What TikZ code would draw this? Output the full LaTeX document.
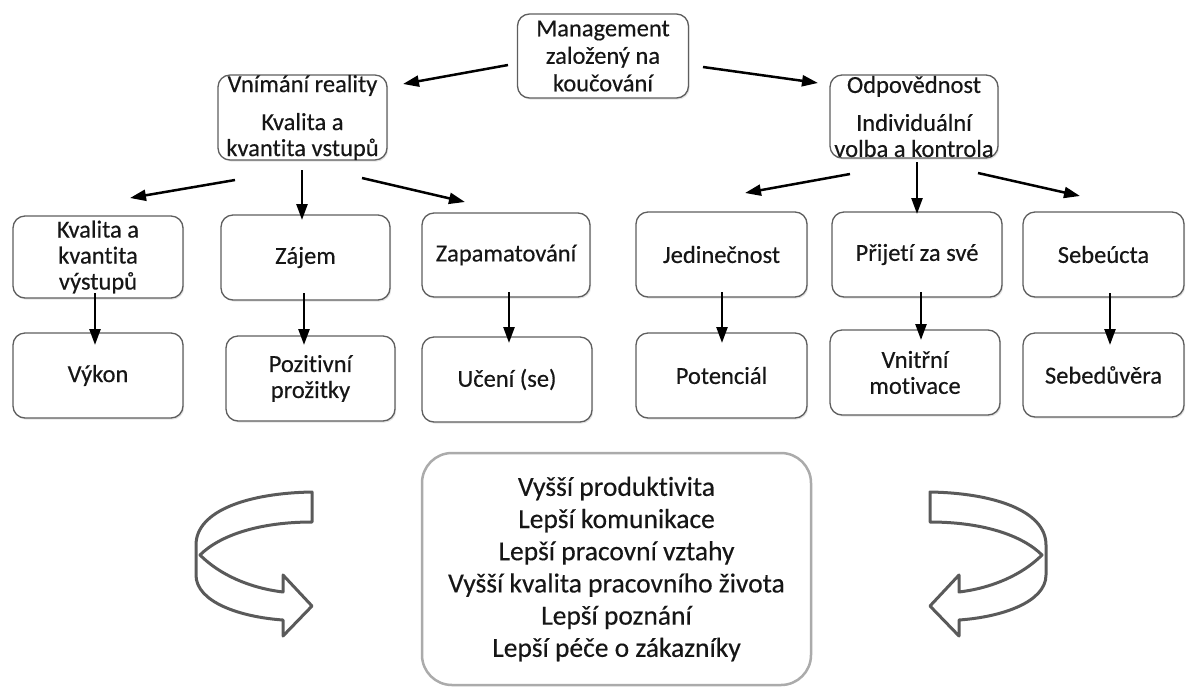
\documentclass[tikz,border=0pt]{standalone}
\usepackage{fontspec}
\setmainfont{Carlito}[Ligatures={NoCommon}, FakeBold=0.35]
\usetikzlibrary{arrows.meta,shadows}
\definecolor{ink}{HTML}{161616}
\definecolor{boxline}{HTML}{5E5E5E}
\definecolor{bigline}{HTML}{ABABAB}
\definecolor{ribbon}{HTML}{5A5A5A}

% twisted ribbon arrow, drawn in local pixel coordinates
\newcommand{\ribbonarrow}{%
  \draw[ribbon, line width=3pt, line join=round]
    (312,492) .. controls (250,493) and (196,510) .. (196,545)
    -- (196,575) .. controls (196,602) and (240,617) .. (283,620)
    -- (283,636) -- (312,606) -- (283,575) -- (283,592)
    .. controls (250,588) and (220,575) .. (200,555)
    .. controls (220,535) and (260,522) .. (312,522) -- cycle;
}

\begin{document}
\begin{tikzpicture}[x=1pt,y=-1pt,
  card/.style={draw=boxline, line width=1.3pt, rounded corners=12pt, fill=white,
    align=center, inner sep=0pt, text=ink, font=\fontsize{24.5}{26}\selectfont,
    drop shadow={opacity=0.22, shadow xshift=1.2pt, shadow yshift=-1.6pt}},
  link/.style={line width=2.5pt, -{Triangle[length=16pt,width=11pt]}}]

\useasboundingbox (0,0) rectangle (1186,686);

% top level
\node[card, minimum width=171, minimum height=84, font=\fontsize{24.5}{27.5}\selectfont]
  (mgmt) at (603,56) {Management\\založený na\\koučování};
\node[card, minimum width=169, minimum height=84]
  (vr) at (302.5,117.5) {Vnímání reality\\[12pt]Kvalita a\\kvantita vstupů};
\node[card, minimum width=168, minimum height=83]
  (od) at (914,116.5) {Odpovědnost\\[12pt]Individuální\\volba a kontrola};

% second row
\node[card, minimum width=170, minimum height=82] (kv) at (98,257) {Kvalita a\\kvantita\\výstupů};
\node[card, minimum width=169, minimum height=85] (za) at (305.5,257.5) {Zájem};
\node[card, minimum width=168, minimum height=84] (zp) at (506,255) {Zapamatování};
\node[card, minimum width=171, minimum height=85] (je) at (721.5,254.5) {Jedinečnost};
\node[card, minimum width=170, minimum height=85] (pz) at (917,254.5) {Přijetí za své};
\node[card, minimum width=161, minimum height=85] (sa) at (1103.5,254.5) {Sebeúcta};

% third row
\node[card, minimum width=170, minimum height=85] (vy) at (98,375.5) {Výkon};
\node[card, minimum width=169, minimum height=85] (po) at (310.5,378.5) {Pozitivní\\prožitky};
\node[card, minimum width=170, minimum height=85] (uc) at (507,379.5) {Učení (se)};
\node[card, minimum width=171, minimum height=85] (pt) at (721.5,375.5) {Potenciál};
\node[card, minimum width=170, minimum height=85] (vm) at (915,372.5) {Vnitřní\\motivace};
\node[card, minimum width=161, minimum height=84] (sd) at (1103.5,375) {Sebedůvěra};

% outcomes
\node[draw=bigline, line width=2.5pt, rounded corners=30pt, align=center, inner sep=0pt,
  minimum width=389, minimum height=232, text=ink, font=\fontsize{27.5}{32.2}\selectfont]
  (out) at (616.5,569)
  {Vyšší produktivita\\Lepší komunikace\\Lepší pracovní vztahy\\Vyšší kvalita pracovního života\\Lepší poznání\\Lepší péče o zákazníky};

% free arrow ends
\coordinate (m1) at (508,65);  \coordinate (m1e) at (403,84);
\coordinate (m2) at (703,67);  \coordinate (m2e) at (818,83);
\coordinate (v1) at (235,180); \coordinate (v1e) at (130,198);
\coordinate (v2) at (302,170); \coordinate (v2e) at (302,220);
\coordinate (v3) at (362,178); \coordinate (v3e) at (465,202);
\coordinate (o1) at (850,174); \coordinate (o1e) at (745,193);
\coordinate (o2) at (917,162); \coordinate (o2e) at (917,214);
\coordinate (o3) at (978,173); \coordinate (o3e) at (1080,196);
\coordinate (d1) at (95,293);   \coordinate (d1e) at (95,345);
\coordinate (d2) at (304,293);  \coordinate (d2e) at (304,345);
\coordinate (d3) at (509,292);  \coordinate (d3e) at (509,343);
\coordinate (d4) at (722,292);  \coordinate (d4e) at (722,343);
\coordinate (d5) at (921,292);  \coordinate (d5e) at (921,340);
\coordinate (d6) at (1110,293); \coordinate (d6e) at (1110,345);

\foreach \a in {m1,m2,v1,v2,v3,o1,o2,o3,d1,d2,d3,d4,d5,d6}
  \draw[link] (\a) -- (\a e);

% circular ribbon arrows on both sides of the outcomes
\begin{scope}
  \ribbonarrow
\end{scope}
\begin{scope}[shift={(1242,0)}, xscale=-1]
  \ribbonarrow
\end{scope}
\end{tikzpicture}
\end{document}
